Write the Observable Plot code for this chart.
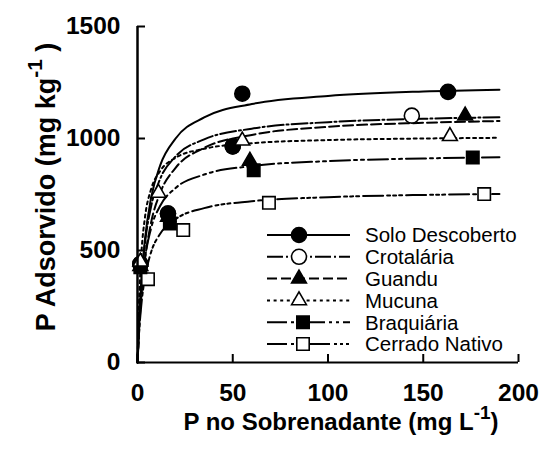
<!DOCTYPE html>
<html>
<head>
<meta charset="utf-8">
<script src="https://cdn.jsdelivr.net/npm/d3@7"></script>
<script src="https://cdn.jsdelivr.net/npm/@observablehq/plot@0.6"></script>
<style>
  html, body { margin: 0; padding: 0; background: white; }
</style>
</head>
<body>
<div id="chart"></div>
<script>
// ---- data ----
const xTicks = [0, 50, 100, 150, 200];
const yTicks = [0, 500, 1000, 1500];
const seriesNames = ["Solo Descoberto", "Crotalária", "Guandu", "Mucuna", "Braquiária", "Cerrado Nativo"];

// fitted curves
const curveX    = [0, 1, 2, 4, 7, 12, 20, 35, 60, 100, 150, 190];
const curveSolo = [0, 208, 357, 556, 729, 882, 1000, 1094, 1154, 1190, 1210, 1218];
const curveCrot = [0, 209, 353, 537, 691, 822, 920, 996, 1044, 1073, 1088, 1095];
const curveGuan = [0, 169, 294, 465, 619, 759, 869, 958, 1016, 1052, 1070, 1078];
const curveMucu = [0, 315, 481, 653, 770, 856, 914, 954, 979, 993, 1000, 1003];
const curveBraq = [0, 187, 312, 468, 595, 701, 779, 839, 877, 899, 911, 916];
const curveCerr = [0, 154, 256, 384, 489, 576, 640, 689, 720, 738, 748, 752];

// observed points
const ptSoloX = [1.5, 16, 50, 55, 163];  const ptSoloY = [440, 665, 965, 1200, 1208];
const ptCrotX = [1.5, 16, 50, 144];      const ptCrotY = [440, 665, 965, 1102];
const ptGuanX = [1.5, 16, 59, 172];      const ptGuanY = [430, 650, 900, 1102];
const ptMucuX = [1.5, 11, 55, 164];      const ptMucuY = [450, 757, 990, 1010];
const ptBraqX = [1.5, 17, 61, 176];      const ptBraqY = [425, 620, 858, 915];
const ptCerrX = [5.5, 24, 69, 182];      const ptCerrY = [372, 591, 713, 752];

// ---- styles ----
const styles = [
  {dash: null,                     symbol: "circle",   fill: "black", r: 7.5},
  {dash: "16,3,2,3",               symbol: "circle",   fill: "white", r: 7.5},
  {dash: "10,4",                   symbol: "triangle", fill: "black", r: 5.5},
  {dash: "3,3.6",                  symbol: "triangle", fill: "white", r: 5.5},
  {dash: "20,4,3,4,3,4",           symbol: "square",   fill: "black", r: 7},
  {dash: "20,4,3,3,3,3,3,4",       symbol: "square",   fill: "white", r: 7}
];

const curves = [curveSolo, curveCrot, curveGuan, curveMucu, curveBraq, curveCerr];
const ptsX = [ptSoloX, ptCrotX, ptGuanX, ptMucuX, ptBraqX, ptCerrX];
const ptsY = [ptSoloY, ptCrotY, ptGuanY, ptMucuY, ptBraqY, ptCerrY];

const W = 543, H = 458;
const mL = 137, mR = 25, mT = 26, mB = 96;
const frameW = W - mL - mR, frameH = H - mT - mB;
const FONT = "'Liberation Sans', Arial, sans-serif";

const lineMarks = curves.map((c, i) => Plot.line(
  curveX.map((x, j) => ({x, y: c[j]})),
  {x: "x", y: "y", curve: "monotone-x", stroke: "black", strokeWidth: 2,
   strokeDasharray: styles[i].dash}
));

const drawOrder = [5, 4, 2, 1, 0, 3];
const dotMarks = drawOrder.map(i => Plot.dot(
  ptsX[i].map((x, j) => ({x, y: ptsY[i][j]})),
  {x: "x", y: "y", symbol: styles[i].symbol, r: styles[i].r,
   fill: styles[i].fill, stroke: "black", strokeWidth: 1.6}
));

const chart = Plot.plot({
  width: W, height: H,
  marginLeft: mL, marginRight: mR, marginTop: mT, marginBottom: mB,
  style: {fontFamily: FONT, background: "white", color: "black"},
  x: {domain: [0, 200]},
  y: {domain: [0, 1500]},
  marks: [
    Plot.axisX(xTicks, {tickSize: 0, tickPadding: 21, tickFormat: d => String(d), label: null}),
    Plot.axisY(yTicks, {tickSize: 0, tickPadding: 17, tickFormat: d => String(d), label: null}),
    Plot.tickX(xTicks, {x: d => d, insetTop: frameH - 8, strokeWidth: 2}),
    Plot.tickY(yTicks, {y: d => d, insetRight: frameW - 8, strokeWidth: 2}),
    ...lineMarks,
    ...dotMarks,
    Plot.ruleX([0], {strokeWidth: 2.5}),
    Plot.ruleY([0], {strokeWidth: 2})
  ]
});

document.getElementById("chart").appendChild(chart);

const svg = d3.select(chart);
// tick label font
svg.selectAll('g[aria-label="x-axis tick label"] text, g[aria-label="y-axis tick label"] text')
  .style("font-family", FONT).style("font-size", "24.5px").style("font-weight", "bold");

// ---- axis titles and legend ----
const xt = svg.append("text")
  .attr("x", 341).attr("y", 430)
  .attr("text-anchor", "middle")
  .attr("font-family", FONT)
  .attr("font-weight", "bold").attr("font-size", 24).attr("fill", "black");
xt.append("tspan").text("P no Sobrenadante (mg L");
xt.append("tspan").attr("dy", -11).attr("font-size", 19).text("-1");
xt.append("tspan").attr("dy", 11).text(")");

const yt = svg.append("text")
  .attr("transform", "translate(55,187) rotate(-90)")
  .attr("text-anchor", "middle")
  .attr("font-family", FONT)
  .attr("font-weight", "bold").attr("font-size", 27).attr("fill", "black");
yt.append("tspan").text("P Adsorvido (mg kg");
yt.append("tspan").attr("dy", -13).attr("font-size", 21).text("-1");
yt.append("tspan").attr("dy", 13).text(" )");

const symbolTypes = {circle: d3.symbolCircle, triangle: d3.symbolTriangle, square: d3.symbolSquare};
const leg = svg.append("g").attr("text-anchor", "start");
seriesNames.forEach((name, i) => {
  const y = 235 + 21.8 * i;
  const s = styles[i];
  leg.append("line")
    .attr("x1", 267).attr("x2", 350).attr("y1", y).attr("y2", y)
    .attr("stroke", "black").attr("stroke-width", 2)
    .attr("stroke-dasharray", s.dash);
  leg.append("path")
    .attr("transform", `translate(${i >= 4 ? 303 : 299},${y})`)
    .attr("d", d3.symbol().type(symbolTypes[s.symbol]).size(s.r * s.r * Math.PI)())
    .attr("fill", s.fill).attr("stroke", "black").attr("stroke-width", 1.6);
  leg.append("text")
    .attr("x", 365).attr("y", y).attr("dy", "0.36em")
    .attr("text-anchor", "start")
    .attr("font-family", FONT)
    .attr("font-size", 20.5).attr("fill", "black")
    .text(name);
});
</script>
</body>
</html>
